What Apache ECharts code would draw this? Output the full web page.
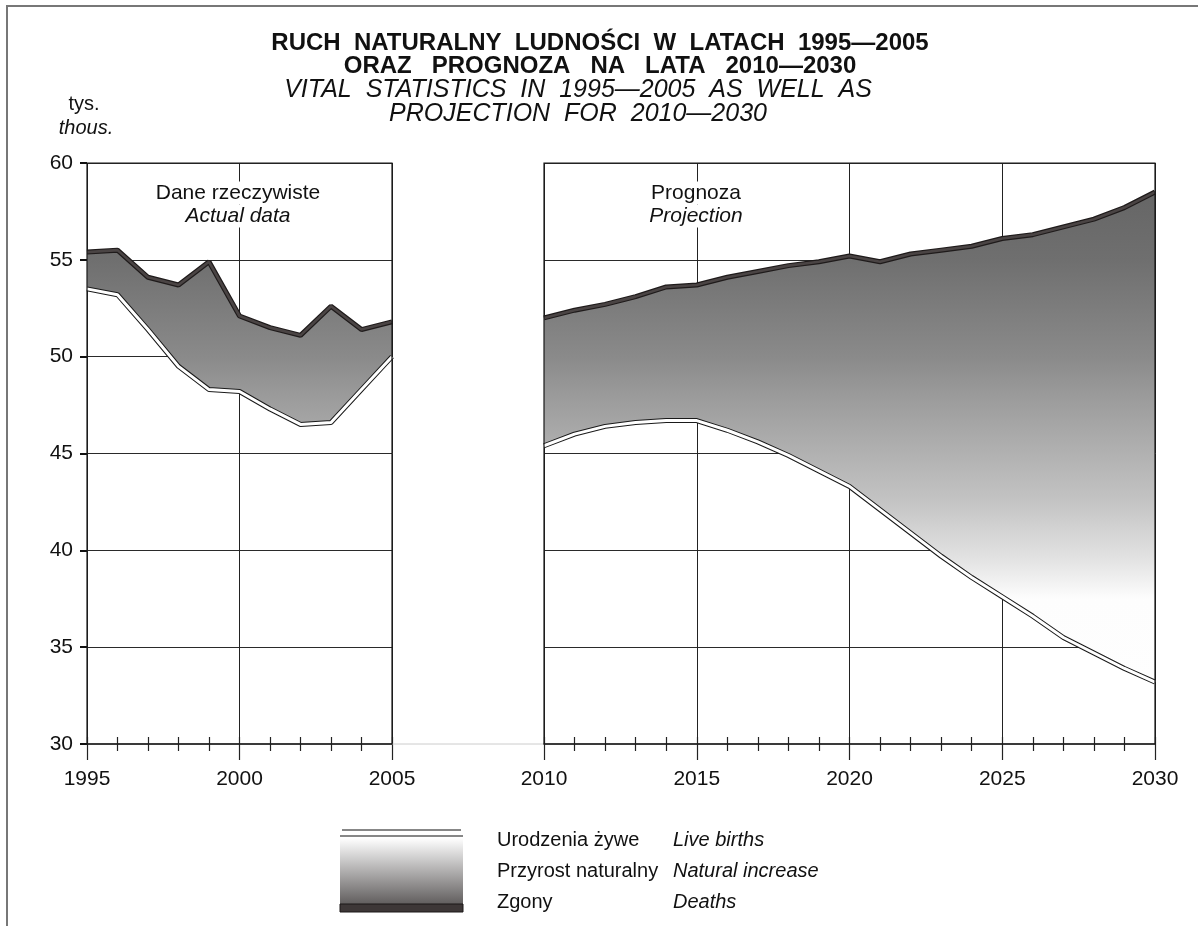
<!DOCTYPE html>
<html>
<head>
<meta charset="UTF-8">
<title>Ruch naturalny ludności</title>
<script src="https://cdn.jsdelivr.net/npm/echarts@6/dist/echarts.min.js"></script>
<style>
	html, body { margin: 0; padding: 0; background: #fff; }
	#main { width: 1198px; height: 926px; }
</style>
</head>
<body>
<div id="main"></div>
<script>
	// dane rzeczywiste 1995-2005 (tys.)
	var lataFakt = [1995, 1996, 1997, 1998, 1999, 2000, 2001, 2002, 2003, 2004, 2005];
	var urodzeniaFakt = [53.5, 53.2, 51.4, 49.5, 48.3, 48.2, 47.3, 46.5, 46.6, 48.3, 50.0];
	var zgonyFakt = [55.4, 55.5, 54.1, 53.7, 54.9, 52.1, 51.5, 51.1, 52.6, 51.4, 51.8];
	// prognoza 2010-2030 (tys.)
	var lataProg = [2010, 2011, 2012, 2013, 2014, 2015, 2016, 2017, 2018, 2019, 2020,
		2021, 2022, 2023, 2024, 2025, 2026, 2027, 2028, 2029, 2030];
	var urodzeniaProg = [45.4, 46.0, 46.4, 46.6, 46.7, 46.7, 46.2, 45.6, 44.9, 44.1, 43.3,
		42.1, 40.9, 39.7, 38.6, 37.6, 36.6, 35.5, 34.7, 33.9, 33.2];
	var zgonyProg = [52.0, 52.4, 52.7, 53.1, 53.6, 53.7, 54.1, 54.4, 54.7, 54.9, 55.2,
		54.9, 55.3, 55.5, 55.7, 56.1, 56.3, 56.7, 57.1, 57.7, 58.5];
	// skala osi Y
	var osY = [30, 60];
	var krokY = 5;

	var FONT = "'Liberation Sans', Arial, sans-serif";
	// uklad wykresu
	var TOP = 163, H = 581;
	var panele = [
		{ left: 87, width: 305, min: 1995, max: 2005 },
		{ left: 544, width: 611, min: 2010, max: 2030 }
	];
	// odcien szarosci wypelnienia wg wartosci (wartosc -> poziom szarosci)
	var cieniowanie = [[60, 100], [58, 103], [55, 111], [50, 138], [47.8, 156], [42.6, 195], [39.5, 227], [37.5, 253], [30, 255]];

	function szary(v) {
		for (var i = 0; i < cieniowanie.length - 1; i++) {
			var a = cieniowanie[i], b = cieniowanie[i + 1];
			if (v <= a[0] && v >= b[0]) {
				var g = Math.round(a[1] + (b[1] - a[1]) * (a[0] - v) / (a[0] - b[0]));
				return 'rgb(' + g + ',' + g + ',' + g + ')';
			}
		}
		return '#fff';
	}
	function gradientDla(vTop, vBot) {
		var stops = [{ offset: 0, color: szary(vTop) }];
		cieniowanie.forEach(function(c) {
			if (c[0] < vTop && c[0] > vBot) {
				stops.push({ offset: (vTop - c[0]) / (vTop - vBot), color: szary(c[0]) });
			}
		});
		stops.push({ offset: 1, color: szary(vBot) });
		return new echarts.graphic.LinearGradient(0, 0, 0, 1, stops);
	}
	function pary(lata, v) {
		return lata.map(function(r, i) { return [r, v[i]]; });
	}

	function serie(idx, lata, ur, zg) {
		var wsp = { xAxisIndex: idx * 2, yAxisIndex: idx, silent: true };
		var obszar = Object.assign({}, wsp, {
			type: 'custom',
			data: lata.map(function(r, i) { return [r, ur[i], zg[i]]; }),
			encode: { x: 0, y: [1, 2] },
			renderItem: function(params, api) {
				if (params.dataIndex !== 0) return { type: 'group', children: [] };
				var pts = [];
				for (var i = 0; i < lata.length; i++) pts.push(api.coord([lata[i], zg[i]]));
				for (var j = lata.length - 1; j >= 0; j--) pts.push(api.coord([lata[j], ur[j]]));
				return {
					type: 'polygon',
					shape: { points: pts },
					style: { fill: gradientDla(Math.max.apply(null, zg), Math.min.apply(null, ur)), stroke: null }
				};
			}
		});
		var linia = Object.assign({}, wsp, { type: 'line', symbol: 'none' });
		return [
			obszar,
			// zgony
			Object.assign({}, linia, { data: pary(lata, zg), lineStyle: { color: '#1f1b1b', width: 5 } }),
			Object.assign({}, linia, { data: pary(lata, zg), lineStyle: { color: '#4a4444', width: 2.6 } }),
			// urodzenia
			Object.assign({}, linia, { data: pary(lata, ur), lineStyle: { color: '#1a1a1a', width: 5 } }),
			Object.assign({}, linia, { data: pary(lata, ur), lineStyle: { color: '#ffffff', width: 3 } })
		];
	}

	var xAxes = [], yAxes = [], grids = [];
	panele.forEach(function(p, i) {
		grids.push({ left: p.left, top: TOP, width: p.width, height: H });
		xAxes.push({
			gridIndex: i, type: 'value', min: p.min, max: p.max, interval: 5, position: 'bottom',
			axisLine: { show: true, onZero: false, lineStyle: { color: '#5a5a5a', width: 2 } },
			axisTick: { show: true, length: 16, lineStyle: { color: '#222', width: 1.2 } },
			minorTick: { show: true, splitNumber: 5, length: 7, lineStyle: { color: '#222', width: 1.2 } },
			axisLabel: { fontSize: 21, color: '#111', margin: 25, fontFamily: FONT,
				formatter: function(v) { return String(v); } },
			splitLine: { show: true, lineStyle: { color: '#222', width: 1 } }
		});
		xAxes.push({
			gridIndex: i, type: 'value', min: p.min, max: p.max, interval: 5, position: 'bottom',
			axisLine: { show: false },
			axisTick: { show: true, inside: true, length: 7, lineStyle: { color: '#222', width: 1.2 } },
			minorTick: { show: true, splitNumber: 5, length: 7, lineStyle: { color: '#222', width: 1.2 } },
			axisLabel: { show: false },
			splitLine: { show: false }
		});
		yAxes.push({
			gridIndex: i, type: 'value', min: osY[0], max: osY[1], interval: krokY,
			axisLine: { show: false },
			axisTick: { show: i === 0, length: 7, lineStyle: { color: '#111', width: 2 } },
			axisLabel: { show: i === 0, fontSize: 21, color: '#111', margin: 14, fontFamily: FONT },
			splitLine: { show: true, lineStyle: { color: '#2a2a2a', width: 1 } }
		});
	});

	var series = serie(0, lataFakt, urodzeniaFakt, zgonyFakt)
		.concat(serie(1, lataProg, urodzeniaProg, zgonyProg));

	function tekst(x, y, t, opt) {
		return {
			type: 'text', x: x, y: y, z: 20,
			style: Object.assign({ text: t, font: '21px ' + FONT, fill: '#111',
				align: 'center', verticalAlign: 'middle' }, opt || {})
		};
	}

	var graphic = [
		// ramka
		{ type: 'polyline', z: 20, shape: { points: [[7, 926], [7, 6], [1198, 6]] },
			style: { stroke: '#777', lineWidth: 2, fill: null } },
		// linia miedzy panelami
		{ type: 'line', z: 1, shape: { x1: 392, y1: TOP + H, x2: 544, y2: TOP + H },
			style: { stroke: '#cccccc', lineWidth: 1 } },
		// tytul
		tekst(600, 43, 'RUCH  NATURALNY  LUDNOŚCI  W  LATACH  1995—2005', { font: 'bold 24px ' + FONT }),
		tekst(600, 66, 'ORAZ   PROGNOZA   NA   LATA   2010—2030', { font: 'bold 24px ' + FONT }),
		tekst(578, 90, 'VITAL  STATISTICS  IN  1995—2005  AS  WELL  AS', { font: 'italic 25px ' + FONT }),
		tekst(578, 114, 'PROJECTION  FOR  2010—2030', { font: 'italic 25px ' + FONT }),
		tekst(84, 104, 'tys.', { font: '20px ' + FONT }),
		tekst(86, 128, 'thous.', { font: 'italic 20px ' + FONT }),
		// opisy paneli
		tekst(238, 193, 'Dane rzeczywiste', { backgroundColor: '#fff', padding: [1, 2] }),
		tekst(238, 216, 'Actual data', { font: 'italic 21px ' + FONT, backgroundColor: '#fff', padding: [1, 2] }),
		tekst(696, 193, 'Prognoza', { backgroundColor: '#fff', padding: [1, 2] }),
		tekst(696, 216, 'Projection', { font: 'italic 21px ' + FONT, backgroundColor: '#fff', padding: [1, 2] }),
		// legenda
		{ type: 'rect', z: 20, shape: { x: 340, y: 838, width: 123, height: 67 },
			style: { fill: new echarts.graphic.LinearGradient(0, 0, 0, 1, [
				{ offset: 0, color: '#ffffff' }, { offset: 1, color: '#5f5c5c' }]) } },
		{ type: 'rect', z: 20, shape: { x: 340, y: 904, width: 123, height: 8 },
			style: { fill: '#3d3737', stroke: '#1c1818', lineWidth: 1 } },
		{ type: 'line', z: 20, shape: { x1: 342, y1: 830, x2: 461, y2: 830 }, style: { stroke: '#111', lineWidth: 1.2 } },
		{ type: 'line', z: 20, shape: { x1: 340, y1: 836, x2: 463, y2: 836 }, style: { stroke: '#111', lineWidth: 1.2 } },
		tekst(497, 840, 'Urodzenia żywe', { align: 'left', font: '20px ' + FONT }),
		tekst(497, 871, 'Przyrost naturalny', { align: 'left', font: '20px ' + FONT }),
		tekst(497, 902, 'Zgony', { align: 'left', font: '20px ' + FONT }),
		tekst(673, 840, 'Live births', { align: 'left', font: 'italic 20px ' + FONT }),
		tekst(673, 871, 'Natural increase', { align: 'left', font: 'italic 20px ' + FONT }),
		tekst(673, 902, 'Deaths', { align: 'left', font: 'italic 20px ' + FONT })
	];
	// obramowanie paneli (nad wypelnieniem)
	panele.forEach(function(p) {
		graphic.push({ type: 'rect', z: 15, shape: { x: p.left, y: TOP, width: p.width, height: H },
			style: { fill: null, stroke: '#1a1a1a', lineWidth: 1.2 } });
	});

	var myChart = echarts.init(document.getElementById('main'));
	myChart.setOption({
		animation: false,
		backgroundColor: '#fff',
		textStyle: { fontFamily: FONT },
		grid: grids,
		xAxis: xAxes,
		yAxis: yAxes,
		series: series,
		graphic: graphic
	});
</script>
</body>
</html>
